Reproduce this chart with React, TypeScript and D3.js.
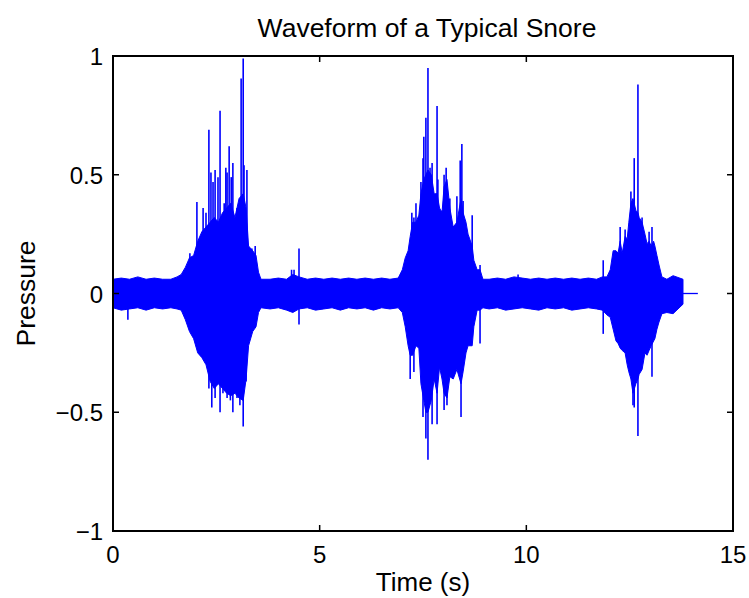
import React from "react";
import * as d3 from "d3";

// ---- data ----
const xTicks = [0, 5, 10, 15];
const yTicks = [-1, -0.5, 0, 0.5, 1];
const yTickLabels = ["\u22121", "\u22120.5", "0", "0.5", "1"];

// envelope of the dense waveform body: time (s), upper, lower
const envT = [
  0.0, 0.2, 0.4, 0.6, 0.8, 1.0, 1.2, 1.4, 1.55, 1.65, 1.75, 1.85, 1.95, 2.05, 2.15, 2.25, 2.35, 2.45, 2.55, 2.65,
  2.75, 2.85, 2.95, 3.05, 3.15, 3.22, 3.28, 3.38, 3.46, 3.52, 3.58, 3.8, 4.0, 4.2, 4.35, 4.5, 4.7, 4.9, 5.1, 5.3,
  5.5, 5.7, 5.9, 6.1, 6.3, 6.5, 6.7, 6.9, 7.0, 7.07, 7.14, 7.19, 7.25, 7.33, 7.4, 7.45, 7.52, 7.57, 7.62, 7.7,
  7.77, 7.84, 7.9, 7.96, 8.01, 8.08, 8.15, 8.23, 8.32, 8.42, 8.47, 8.54, 8.59, 8.69, 8.73, 8.81, 8.88, 8.95, 9.1, 9.3,
  9.5, 9.7, 9.9, 10.1, 10.3, 10.5, 10.7, 10.9, 11.1, 11.3, 11.5, 11.7, 11.84, 11.95, 12.03, 12.1, 12.17, 12.22, 12.27, 12.32,
  12.39, 12.44, 12.48, 12.53, 12.58, 12.65, 12.7, 12.73, 12.8, 12.87, 12.92, 12.97, 13.02, 13.08, 13.11, 13.16, 13.21, 13.28, 13.4, 13.55,
  13.79,
];
const envHi = [
  0.06, 0.065, 0.06, 0.07, 0.06, 0.065, 0.06, 0.06, 0.07, 0.08, 0.11, 0.15, 0.16, 0.22, 0.26, 0.28, 0.3, 0.32, 0.3, 0.34,
  0.36, 0.38, 0.32, 0.4, 0.42, 0.36, 0.2, 0.18, 0.16, 0.09, 0.06, 0.06, 0.065, 0.06, 0.08, 0.07, 0.06, 0.065, 0.06, 0.065,
  0.06, 0.065, 0.06, 0.065, 0.06, 0.065, 0.06, 0.065, 0.1, 0.15, 0.18, 0.24, 0.3, 0.3, 0.33, 0.42, 0.48, 0.5, 0.52, 0.5,
  0.42, 0.42, 0.36, 0.34, 0.45, 0.48, 0.36, 0.28, 0.3, 0.4, 0.34, 0.3, 0.25, 0.2, 0.14, 0.1, 0.1, 0.06, 0.06, 0.065,
  0.06, 0.07, 0.065, 0.06, 0.065, 0.06, 0.065, 0.06, 0.065, 0.06, 0.065, 0.06, 0.07, 0.07, 0.1, 0.18, 0.18, 0.17, 0.22, 0.17,
  0.24, 0.23, 0.3, 0.38, 0.4, 0.35, 0.34, 0.32, 0.3, 0.25, 0.21, 0.22, 0.2, 0.22, 0.2, 0.16, 0.12, 0.07, 0.06, 0.075,
  0.06,
];
const envLo = [
  -0.06, -0.07, -0.065, -0.06, -0.07, -0.06, -0.065, -0.06, -0.065, -0.07, -0.11, -0.16, -0.19, -0.25, -0.27, -0.3, -0.37, -0.4, -0.38, -0.4,
  -0.42, -0.43, -0.42, -0.44, -0.45, -0.36, -0.22, -0.16, -0.14, -0.08, -0.06, -0.065, -0.06, -0.07, -0.08, -0.065, -0.06, -0.07, -0.065, -0.06,
  -0.07, -0.06, -0.065, -0.06, -0.07, -0.06, -0.065, -0.06, -0.08, -0.14, -0.22, -0.26, -0.26, -0.22, -0.23, -0.38, -0.45, -0.5, -0.5, -0.45,
  -0.36, -0.42, -0.31, -0.36, -0.42, -0.44, -0.35, -0.36, -0.32, -0.38, -0.33, -0.25, -0.22, -0.22, -0.14, -0.07, -0.07, -0.06, -0.065, -0.06,
  -0.07, -0.065, -0.06, -0.065, -0.07, -0.06, -0.065, -0.06, -0.07, -0.065, -0.06, -0.065, -0.07, -0.09, -0.1, -0.15, -0.2, -0.21, -0.23, -0.24,
  -0.25, -0.3, -0.33, -0.36, -0.42, -0.38, -0.36, -0.34, -0.32, -0.25, -0.26, -0.24, -0.22, -0.2, -0.19, -0.15, -0.12, -0.085, -0.08, -0.085,
  -0.045,
];

// isolated spikes: time (s), peak value
const spikeT = [
  2.03, 2.18, 2.25, 2.32, 2.37, 2.42, 2.47, 2.54, 2.59, 2.69, 2.73, 2.76, 2.81, 2.86, 2.9, 3.0, 3.1, 3.15, 3.17, 3.24,
  3.36, 3.44, 1.86, 4.5, 4.32, 4.38,
  2.32, 2.39, 2.47, 2.59, 2.66, 2.76, 2.84, 2.9, 3.0, 3.07, 3.15, 3.22, 4.5, 0.36,
  7.23, 7.28, 7.33, 7.45, 7.5, 7.52, 7.57, 7.62, 7.67, 7.72, 7.84, 7.86, 7.96, 8.01, 8.06, 8.15, 8.32, 8.4, 8.44, 8.47,
  8.69, 8.88, 9.8,
  7.19, 7.28, 7.5, 7.57, 7.62, 7.72, 7.84, 8.01, 8.08, 8.42, 8.88,
  11.86, 12.27, 12.39, 12.53, 12.61, 12.7, 12.8, 12.97, 13.04,
  11.86, 12.23, 12.58, 12.61, 12.7, 13.04,
];
const spikeV = [
  0.385, 0.36, 0.34, 0.69, 0.51, 0.47, 0.52, 0.49, 0.77, 0.38, 0.53, 0.51, 0.62, 0.49, 0.55, 0.36, 0.905, 0.99, 0.54, 0.52,
  0.19, 0.2, 0.17, 0.19, 0.1, 0.1,
  -0.4, -0.48, -0.44, -0.5, -0.42, -0.44, -0.45, -0.5, -0.44, -0.47, -0.56, -0.37, -0.13, -0.11,
  0.34, 0.32, 0.38, 0.47, 0.57, 0.66, 0.74, 0.95, 0.53, 0.55, 0.79, 0.48, 0.35, 0.5, 0.53, 0.4, 0.41, 0.56, 0.63, 0.39,
  0.33, 0.12, 0.08,
  -0.36, -0.33, -0.52, -0.61, -0.7, -0.55, -0.55, -0.49, -0.47, -0.52, -0.21,
  0.14, 0.28, 0.27, 0.43, 0.57, 0.88, 0.32, 0.26, 0.28,
  -0.17, -0.21, -0.47, -0.48, -0.6, -0.35,
];

// flat tail after the recording ends
const tailT = [13.79, 14.15];
const tailV = [0, 0];

const W = 749;
const H = 598;
const L = 113, R = 733, T = 56, B = 531;
const FONT = "'Liberation Sans', Arial, Helvetica, sans-serif";
const BLUE = "#0000ff";

export default function App() {
  const x = d3.scaleLinear().domain([0, 15]).range([L, R]);
  const y = d3.scaleLinear().domain([-1, 1]).range([B, T]);

  const env = envT.map((t, i) => ({ t, hi: envHi[i], lo: envLo[i] }));
  const area = d3
    .area<{ t: number; hi: number; lo: number }>()
    .x((d) => x(d.t))
    .y0((d) => y(d.lo))
    .y1((d) => y(d.hi));
  const tail = d3
    .line<number>()
    .x((_, i) => x(tailT[i]))
    .y((d) => y(d));

  const tickLen = 6;

  return (
    <svg
      width={W}
      height={H}
      style={{ position: "absolute", left: 0, top: 0, background: "#fff" }}
      fontFamily={FONT}
    >
      <rect x={0} y={0} width={W} height={H} fill="#fff" />
      {/* waveform */}
      <path d={area(env) || ""} fill={BLUE} stroke={BLUE} strokeWidth={1} />
      {spikeT.map((t, i) => (
        <line
          key={i}
          x1={x(t)}
          x2={x(t)}
          y1={y(0)}
          y2={y(spikeV[i])}
          stroke={BLUE}
          strokeWidth={1.6}
        />
      ))}
      <path d={tail(tailV) || ""} fill="none" stroke={BLUE} strokeWidth={1.3} />

      {/* axes box */}
      <rect x={L} y={T} width={R - L} height={B - T} fill="none" stroke="#000" strokeWidth={2} />
      {xTicks.map((v) => (
        <g key={"x" + v}>
          <line x1={x(v)} x2={x(v)} y1={B} y2={B - tickLen} stroke="#000" strokeWidth={1.5} />
          <line x1={x(v)} x2={x(v)} y1={T} y2={T + tickLen} stroke="#000" strokeWidth={1.5} />
          <text x={x(v)} y={563} textAnchor="middle" fontSize={24} fill="#000">
            {v}
          </text>
        </g>
      ))}
      {yTicks.map((v, i) => (
        <g key={"y" + v}>
          <line x1={L} x2={L + tickLen} y1={y(v)} y2={y(v)} stroke="#000" strokeWidth={1.5} />
          <line x1={R} x2={R - tickLen} y1={y(v)} y2={y(v)} stroke="#000" strokeWidth={1.5} />
          <text x={103} y={y(v) + 9} textAnchor="end" fontSize={24} fill="#000">
            {yTickLabels[i]}
          </text>
        </g>
      ))}

      <text x={427} y={37} textAnchor="middle" fontSize={26.5} fill="#000">
        Waveform of a Typical Snore
      </text>
      <text x={(L + R) / 2} y={591} textAnchor="middle" fontSize={26} fill="#000">
        Time (s)
      </text>
      <text
        transform={`translate(35, ${(T + B) / 2}) rotate(-90)`}
        textAnchor="middle"
        fontSize={26.5}
        fill="#000"
      >
        Pressure
      </text>
    </svg>
  );
}
